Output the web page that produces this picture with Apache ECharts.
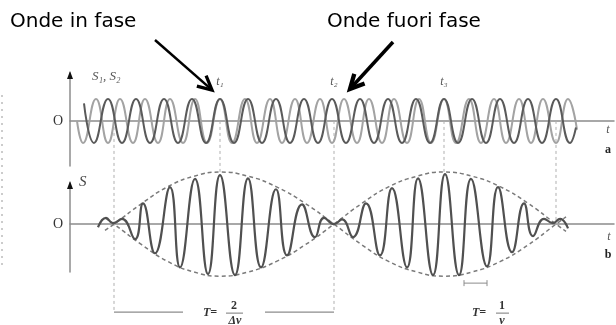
<!DOCTYPE html>
<html>
<head>
<meta charset="utf-8">
<script src="https://cdn.jsdelivr.net/npm/echarts@6/dist/echarts.min.js"></script>
<style>
html, body { margin: 0; padding: 0; background: #fff; }
#main { width: 616px; height: 325px; }
</style>
</head>
<body>
<div id="main"></div>
<script>
// onda S1 (chiara, periodo piu' corto): estremi
var s1T = [7,13,26,38,50,63,75,88,100,113,125,137,150,162,175,187,200,212,225,237,250,262,274,287,299,312,324,337,349,361,374,386,399,411,424,436,449,461,473,486,498,507];
var s1V = [0,-1,1,-1,1,-1,1,-1,1,-1,1,-1,1,-1,1,-1,1,-1,1,-1,1,-1,1,-1,1,-1,1,-1,1,-1,1,-1,1,-1,1,-1,1,-1,1,-1,1,-0.4];

// onda S2 (scura, periodo piu' lungo)
var s2T = [14,24,38,52,66,80,94,108,122,136,150,164,178,192,206,220,234,248,262,276,290,304,318,332,346,360,374,388,402,416,430,444,458,472,486,500,506];
var s2V = [0.8,-1,1,-1,1,-1,1,-1,1,-1,1,-1,1,-1,1,-1,1,-1,1,-1,1,-1,1,-1,1,-1,1,-1,1,-1,1,-1,1,-1,1,-1,-0.3];

// somma S = S1 + S2 (battimenti), estremi
var bT = [28,36,43,52,65,73,85,100,110,125,138,150,165,178,191,206,217,232,245,254,264,272,283,296,310,322,337,348,363,375,389,401,417,428,442,454,463,474,483,490,498];
var bV = [-0.06,0.12,0.02,0.10,-0.29,0.40,-0.56,0.71,-0.83,0.87,-0.96,0.94,-0.98,0.88,-0.83,0.67,-0.60,0.38,-0.25,0.12,0,0.09,-0.25,0.40,-0.60,0.69,-0.83,0.88,-0.98,0.96,-0.98,0.87,-0.81,0.71,-0.54,0.40,-0.23,0.10,0.02,0.10,-0.08];

// inviluppo tratteggiato
var eT = [35,44,72,98,124,150,178,206,235,264,292,319,347,374,402,430,458,486,496];
var eUp = [-0.12,0,0.40,0.72,0.92,1,0.92,0.72,0.40,0,-0.40,-0.72,-0.92,-1,-0.92,-0.72,-0.40,0,0.14];
var eLow = [0.12,0,-0.40,-0.72,-0.92,-1,-0.92,-0.72,-0.40,0,0.40,0.72,0.92,1,0.92,0.72,0.40,0,-0.14];

// istanti segnati (linee tratteggiate verticali)
var tMarks = [44,150,264,374,486];
var tNames = ['', 't\u2081', 't\u2082', 't\u2083', ''];
var periodT = [394,417];   // T = 1/v

function zip(a, b) {
  var out = [];
  for (var i = 0; i < a.length; i++) out.push([a[i], b[i]]);
  return out;
}

var chart = echarts.init(document.getElementById('main'));

var axisGray = '#8c8c8c';
var option = {
  animation: false,
  grid: [
    { left: 70, right: 2, top: 73, height: 93 },
    { left: 70, right: 2, top: 183, height: 89 }
  ],
  xAxis: [0, 1].map(function (i) {
    return {
      type: 'value', gridIndex: i, min: 0, max: 544,
      axisLine: { onZero: true, lineStyle: { color: axisGray, width: 1.5 } },
      axisTick: { show: false }, axisLabel: { show: false }, splitLine: { show: false }
    };
  }),
  yAxis: [
    { type: 'value', gridIndex: 0, min: -2.05, max: 2.18 },
    { type: 'value', gridIndex: 1, min: -0.92, max: 0.79 }
  ].map(function (a) {
    a.axisLine = { show: true, lineStyle: { color: axisGray, width: 1.5 } };
    a.axisTick = { show: false };
    a.axisLabel = { show: false };
    a.splitLine = { show: false };
    return a;
  }),
  series: [
    { type: 'line', xAxisIndex: 0, yAxisIndex: 0, data: zip(s1T, s1V), smooth: 0.5,
      showSymbol: false, silent: true, clip: false, z: 3,
      lineStyle: { color: '#a3a3a3', width: 2 } },
    { type: 'line', xAxisIndex: 0, yAxisIndex: 0, data: zip(s2T, s2V), smooth: 0.5,
      showSymbol: false, silent: true, clip: false, z: 4,
      lineStyle: { color: '#5a5a5a', width: 2 } },
    { type: 'line', xAxisIndex: 1, yAxisIndex: 1, data: zip(eT, eUp), smooth: 0.5,
      showSymbol: false, silent: true, clip: false, z: 3,
      lineStyle: { color: '#7a7a7a', width: 1.5, type: [4, 3] } },
    { type: 'line', xAxisIndex: 1, yAxisIndex: 1, data: zip(eT, eLow), smooth: 0.5,
      showSymbol: false, silent: true, clip: false, z: 3,
      lineStyle: { color: '#7a7a7a', width: 1.5, type: [4, 3] } },
    { type: 'line', xAxisIndex: 1, yAxisIndex: 1, data: zip(bT, bV), smooth: 0.5,
      showSymbol: false, silent: true, clip: false, z: 4,
      lineStyle: { color: '#505050', width: 2.2 } }
  ]
};
chart.setOption(option);

// annotazioni
function px(g, t, v) { return chart.convertToPixel({ gridIndex: g }, [t, v]); }
function txt(x, y, s, font, color, align) {
  return { type: 'text', x: x, y: y, z: 10, silent: true,
    style: { text: s, font: font, fill: color || '#444',
      align: align || 'center', verticalAlign: 'middle',
      textAlign: align || 'center', textVerticalAlign: 'middle' } };
}
function seg(x1, y1, x2, y2, color, w, dash) {
  return { type: 'line', z: 1, silent: true, shape: { x1: x1, y1: y1, x2: x2, y2: y2 },
    style: { stroke: color, lineWidth: w, lineDash: dash || null } };
}
function arrow(x1, y1, x2, y2, w) {
  var dx = x2 - x1, dy = y2 - y1, L = Math.sqrt(dx * dx + dy * dy);
  var ux = dx / L, uy = dy / L, h = 14, s = 0.5;
  var a = [x2 - h * (ux - s * uy), y2 - h * (uy + s * ux)];
  var b = [x2 - h * (ux + s * uy), y2 - h * (uy - s * ux)];
  return [
    seg(x1, y1, x2 - ux * 2, y2 - uy * 2, '#000', w),
    { type: 'polyline', z: 10, silent: true, shape: { points: [a, [x2, y2], b] },
      style: { stroke: '#000', lineWidth: w + 0.8, fill: null, lineJoin: 'miter' } }
  ];
}
function tri(x, yTop) {
  return { type: 'polygon', z: 10, silent: true,
    shape: { points: [[x, yTop], [x - 3, yTop + 8], [x + 3, yTop + 8]] },
    style: { fill: '#111' } };
}

var serif = '"Liberation Serif", "DejaVu Serif", serif';
var g = [];
var z0 = px(0, 0, 0), z1 = px(1, 0, 0);
var bracketY = z1[1] + 88;

// frecce nere in cima agli assi y
g.push(tri(z0[0], 71));
g.push(tri(z1[0], 181));

g.push(txt(z0[0] - 12, z0[1], 'O', '14px ' + serif, '#333'));
g.push(txt(z1[0] - 12, z1[1], 'O', '14px ' + serif, '#333'));
g.push(txt(z0[0] + 22, 77, 'S\u2081, S\u2082', 'italic 13px ' + serif, '#555', 'left'));
g.push(txt(z1[0] + 9, 182, 'S', 'italic 15px ' + serif, '#444', 'left'));
g.push(txt(608, z0[1] + 9, 't', 'italic 12px ' + serif, '#555'));
g.push(txt(608, z0[1] + 29, 'a', 'bold 12px ' + serif, '#222'));
g.push(txt(609, z1[1] + 13, 't', 'italic 12px ' + serif, '#555'));
g.push(txt(608, z1[1] + 31, 'b', 'bold 12px ' + serif, '#222'));

tMarks.forEach(function (t, i) {
  var top = px(0, t, 0);
  var end;
  if (i === 1 || i === 3) end = px(1, t, 1)[1];
  else if (i === 4) end = z1[1];
  else end = bracketY;
  g.push(seg(top[0], top[1], top[0], end, '#b0b0b0', 1, [3, 3]));
  if (tNames[i]) g.push(txt(top[0], 82, tNames[i], 'italic 12px ' + serif, '#555'));
});

// T = 2/Δv
var xa = px(1, tMarks[0], 0)[0], xb = px(1, tMarks[2], 0)[0], mid = (xa + xb) / 2;
g.push(seg(xa, bracketY, mid - 41, bracketY, '#8c8c8c', 1.3));
g.push(seg(mid + 41, bracketY, xb, bracketY, '#8c8c8c', 1.3));
g.push(txt(mid - 14, bracketY + 1, 'T=', 'italic bold 12px ' + serif, '#333'));
g.push(txt(mid + 10, bracketY - 6, '2', 'bold 12px ' + serif, '#333'));
g.push(seg(mid + 2, bracketY + 1, mid + 19, bracketY + 1, '#555', 0.8));
g.push(txt(mid + 11, bracketY + 9, '\u0394\u03bd', 'italic bold 12px ' + serif, '#333'));

// T = 1/v
var pa = px(1, periodT[0], 0)[0], pb = px(1, periodT[1], 0)[0], py = z1[1] + 59;
g.push(seg(pa, py, pb, py, '#8c8c8c', 1));
g.push(seg(pa, py - 3, pa, py + 3, '#8c8c8c', 1));
g.push(seg(pb, py - 3, pb, py + 3, '#8c8c8c', 1));
g.push(txt(479, bracketY + 1, 'T=', 'italic bold 12px ' + serif, '#333'));
g.push(txt(502, bracketY - 6, '1', 'bold 12px ' + serif, '#333'));
g.push(seg(496, bracketY + 1, 509, bracketY + 1, '#555', 0.8));
g.push(txt(502, bracketY + 9, '\u03bd', 'italic bold 12px ' + serif, '#333'));

// bordo tratteggiato a sinistra
g.push(seg(2, 95, 2, 267, '#999', 1, [2, 5]));

// titoli e frecce
var sans = '"DejaVu Sans", Verdana, sans-serif';
g.push(txt(10, 22, 'Onde in fase', '20px ' + sans, '#000', 'left'));
g.push(txt(327, 22, 'Onde fuori fase', '20px ' + sans, '#000', 'left'));
g = g.concat(arrow(155, 40, 212, 90, 2.5));
g = g.concat(arrow(393, 42, 350, 89, 3.5));

chart.setOption({ graphic: { elements: g } });
</script>
</body>
</html>
